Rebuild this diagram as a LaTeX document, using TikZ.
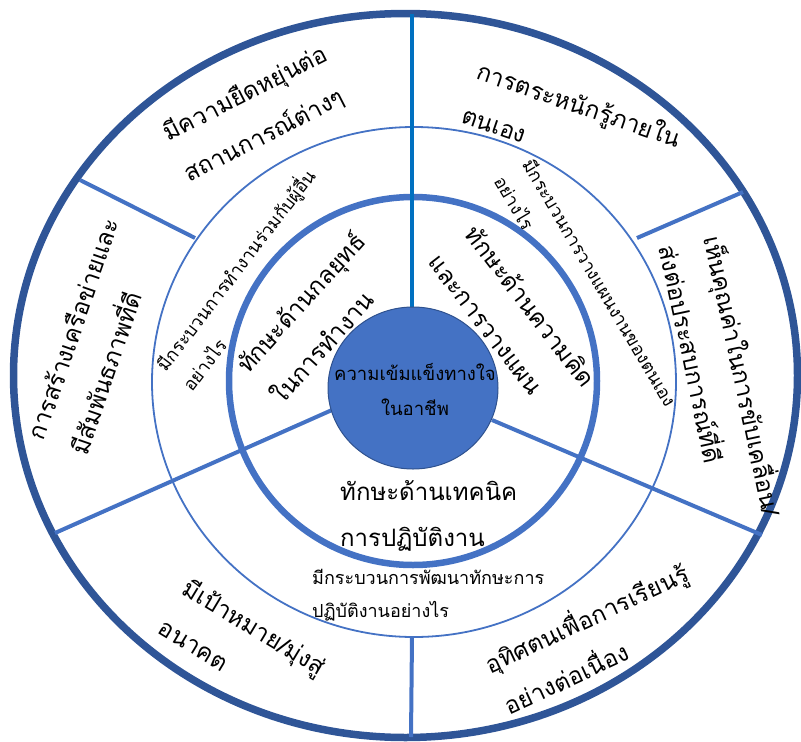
\documentclass[tikz,border=0pt]{standalone}
\usepackage{fontspec}
\newfontfamily\thaifont[Script=Thai]{Loma}
\definecolor{outerblue}{HTML}{2F5597}
\definecolor{accent}{HTML}{4472C4}
\definecolor{topline}{HTML}{0070C0}
\definecolor{rimdark}{HTML}{2F528F}
\begin{document}
\begin{tikzpicture}[x=1pt,y=-1pt,
  bigtxt/.style={font=\thaifont\fontsize{24}{46}\selectfont, align=left, inner sep=0pt},
  smalltxt/.style={font=\thaifont\fontsize{18}{33}\selectfont, align=left, inner sep=0pt},
  centertxt/.style={font=\thaifont\fontsize{18.5}{35}\selectfont, align=center, inner sep=0pt},
  divider/.style={draw=accent, line width=4pt},
  ringthin/.style={draw=accent, line width=1.8pt},
  ringthick/.style={draw=accent, line width=6.5pt},
  ringouter/.style={draw=outerblue, line width=7.5pt}]
\useasboundingbox (0,0) rectangle (801,742);
% rings
\draw[ringouter] (405.5,375.5) ellipse [x radius=392, y radius=362];
\draw[ringthin] (414,382) ellipse [x radius=262, y radius=255];
\draw[ringthick] (413,381) circle [radius=184];
% divider end points
\coordinate (vt1) at (412,14);   \coordinate (vt2) at (412,307);
\coordinate (vb1) at (412,637);  \coordinate (vb2) at (411,737);
\coordinate (ll1) at (332,410);  \coordinate (ll2) at (55,533);
\coordinate (lr1) at (492,420);  \coordinate (lr2) at (762,535);
\coordinate (ul1) at (195,238);  \coordinate (ul2) at (80,180);
\coordinate (ur1) at (637,238);  \coordinate (ur2) at (743,192);
\draw[draw=topline, line width=3.3pt] (vt1) -- (vt2);
\draw[divider] (vb1) -- (vb2);
\draw[divider] (ll1) -- (ll2);
\draw[divider] (lr1) -- (lr2);
\draw[divider] (ul1) -- (ul2);
\draw[divider] (ur1) -- (ur2);
% centre disc
\draw[fill=accent, draw=rimdark, line width=1pt] (413,388) ellipse [x radius=85, y radius=81];
\node[centertxt] (c) at (415,389) {ความเข้มแข็งทางใจ\\ในอาชีพ};
% outer band texts
\node[bigtxt, rotate=27] (t1) at (256,114) {มีความยืดหยุ่นต่อ\\สถานการณ์ต่างๆ};
\node[bigtxt, rotate=-19] (t2) at (572,125) {การตระหนักรู้ภายใน\\ตนเอง};
\node[bigtxt, rotate=-78] (t3) at (723,380) {เห็นคุณค่าในการขับเคลื่อน/\\ส่งต่อประสบการณ์ที่ดี};
\node[bigtxt, rotate=25] (t4) at (595,637) {อุทิศตนเพื่อการเรียนรู้\\อย่างต่อเนื่อง};
\node[bigtxt, rotate=-31] (t5) at (243,646) {มีเป้าหมาย/มุ่งสู่\\อนาคต};
\node[bigtxt, rotate=71] (t6) at (94,336) {การสร้างเครือข่ายและ\\มีสัมพันธภาพที่ดี};
% middle band texts
\node[smalltxt, rotate=52.5] (s1) at (247,279) {มีกระบวนการทำงานร่วมกับผู้อื่น\\อย่างไร};
\node[smalltxt, rotate=-59.4] (s2) at (586,291) {มีกระบวนการวางแผนงานของตนเอง\\อย่างไร};
\node[smalltxt, anchor=west] (s3) at (312,595) {มีกระบวนการพัฒนาทักษะการ\\ปฏิบัติงานอย่างไร};
% inner band texts
\node[bigtxt, rotate=48] (k1) at (317,317) {ทักษะด้านกลยุทธ์\\ในการทำงาน};
\node[bigtxt, rotate=-52.4] (k2) at (513,320) {ทักษะด้านความคิด\\และการวางแผน};
\node[bigtxt, anchor=west] (k3) at (340,516) {ทักษะด้านเทคนิค\\การปฏิบัติงาน};
\end{tikzpicture}
\end{document}
